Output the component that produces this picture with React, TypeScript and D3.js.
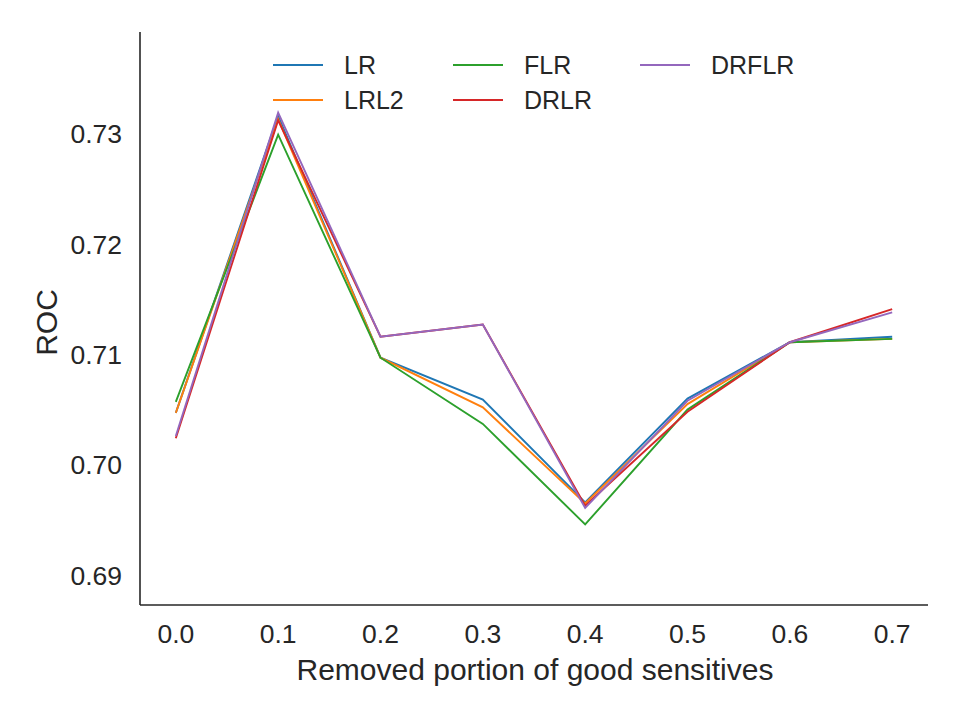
import React from 'react';
import * as d3 from 'd3';

const xValues = [0.0, 0.1, 0.2, 0.3, 0.4, 0.5, 0.6, 0.7];
const seriesNames = ['LR', 'LRL2', 'FLR', 'DRLR', 'DRFLR'];
const seriesColors = ['#1f77b4', '#ff7f0e', '#2ca02c', '#d62728', '#9467bd'];

const lrValues = [0.7047, 0.7316, 0.7097, 0.7059, 0.6966, 0.706, 0.7111, 0.7116];
const lrl2Values = [0.7047, 0.7313, 0.7097, 0.7052, 0.6965, 0.7055, 0.7111, 0.7114];
const flrValues = [0.7057, 0.7299, 0.7097, 0.7037, 0.6946, 0.705, 0.7111, 0.7114];
const drlrValues = [0.7024, 0.7312, 0.7116, 0.7127, 0.6963, 0.7048, 0.7111, 0.7141];
const drflrValues = [0.7026, 0.7319, 0.7116, 0.7127, 0.6961, 0.7058, 0.7111, 0.7138];

const allValues = [lrValues, lrl2Values, flrValues, drlrValues, drflrValues];

const yTicks = [0.69, 0.7, 0.71, 0.72, 0.73];

const width = 960;
const height = 720;
const margin = { top: 32, right: 32, bottom: 115, left: 140 };

export default function App() {
  const innerW = width - margin.left - margin.right;
  const innerH = height - margin.top - margin.bottom;

  const x = d3.scaleLinear().domain([-0.035, 0.735]).range([0, innerW]);
  const y = d3.scaleLinear().domain([0.6873, 0.7392]).range([innerH, 0]);

  const line = d3
    .line<number>()
    .x((_, i) => x(xValues[i]))
    .y((d) => y(d));

  const font = '"Liberation Sans", Arial, sans-serif';
  const textColor = '#262626';

  // legend layout: 3 columns, 2 rows, column-major fill
  const legendCols = [133, 313, 500];
  const legendRows = [33, 68];

  return (
    <svg
      width={width}
      height={height}
      style={{ position: 'absolute', left: 0, top: 0, background: '#fff' }}
      fontFamily={font}
    >
      <g transform={`translate(${margin.left},${margin.top})`}>
        {allValues.map((vals, i) => (
          <path key={seriesNames[i]} d={line(vals) || undefined} fill="none" stroke={seriesColors[i]} strokeWidth={1.9} />
        ))}

        {/* spines */}
        <line x1={0} x2={0} y1={0} y2={innerH} stroke={textColor} strokeWidth={1.6} />
        <line x1={0} x2={innerW} y1={innerH} y2={innerH} stroke={textColor} strokeWidth={1.6} />

        {/* y ticks */}
        {yTicks.map((t) => (
          <text key={t} x={-18} y={y(t)} dy="0.36em" textAnchor="end" fontSize={26.5} fill={textColor}>
            {t.toFixed(2)}
          </text>
        ))}

        {/* x ticks */}
        {xValues.map((t) => (
          <text key={t} x={x(t)} y={innerH + 38} textAnchor="middle" fontSize={26.5} fill={textColor}>
            {t.toFixed(1)}
          </text>
        ))}

        <text x={innerW / 2 + 1} y={innerH + 75} textAnchor="middle" fontSize={30} fill={textColor}>
          Removed portion of good sensitives
        </text>
        <text
          transform={`translate(${-83},${innerH / 2 + 4}) rotate(-90)`}
          textAnchor="middle"
          fontSize={30}
          fill={textColor}
        >
          ROC
        </text>

        {/* legend */}
        {seriesNames.map((name, i) => {
          const cx = legendCols[Math.floor(i / 2)];
          const cy = legendRows[i % 2];
          return (
            <g key={name} transform={`translate(${cx},${cy})`}>
              <line x1={0} x2={50} y1={0} y2={0} stroke={seriesColors[i]} strokeWidth={1.9} />
              <text x={71} y={0} dy="0.36em" fontSize={25} fill={textColor}>
                {name}
              </text>
            </g>
          );
        })}
      </g>
    </svg>
  );
}
